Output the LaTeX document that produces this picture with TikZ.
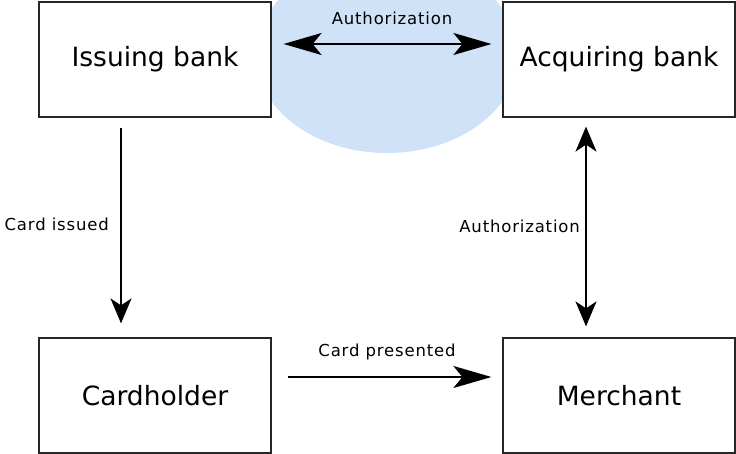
\documentclass[tikz,border=0pt]{standalone}
\usepackage{fontspec}
\usetikzlibrary{arrows.meta}
\newfontfamily\boxfont{DejaVu Sans}
\newfontfamily\labelfont{DejaVu Sans}[LetterSpace=5]
\definecolor{haze}{RGB}{207,226,247}
\tikzset{
  longhead/.tip={Stealth[length=38pt,width=22pt,inset=9pt]},
  shorthead/.tip={Stealth[length=25pt,width=21pt,inset=7pt]},
  party/.style={draw=black!85, line width=1.2pt, fill=white, minimum width=232pt,
    minimum height=115pt, inner sep=0pt, font=\boxfont\fontsize{26.5}{30}\selectfont},
  hflow/.style={line width=2pt, -longhead},
  htwoway/.style={line width=2pt, longhead-longhead},
  vflow/.style={line width=2pt, -shorthead},
  vtwoway/.style={line width=2pt, shorthead-shorthead},
  tag/.style={inner sep=0pt, font=\labelfont\fontsize{16.5}{19}\selectfont}
}
\begin{document}
\begin{tikzpicture}[x=1pt,y=-1pt]
\useasboundingbox (0,0) rectangle (736,454);
% network zone behind the banks
\fill[haze] (387,55) ellipse [x radius=131pt, y radius=98pt];
% the four parties
\node[party] (issuing) at (155,59.5) {Issuing bank};
\node[party] (acquiring) at (619,59.5) {Acquiring bank};
\node[party] (cardholder) at (155,395.5) {Cardholder};
\node[party] (merchant) at (619,395.5) {Merchant};
% flows between them
\draw[htwoway, shorten <=12pt, shorten >=11pt]
  ([yshift=15.5pt]issuing.east) -- ([yshift=15.5pt]acquiring.west);
\draw[vflow, shorten <=10pt, shorten >=14pt]
  ([xshift=-34pt]issuing.south) -- ([xshift=-34pt]cardholder.north);
\draw[vtwoway, shorten <=9pt, shorten >=11pt]
  ([xshift=-33pt]acquiring.south) -- ([xshift=-33pt]merchant.north);
\draw[hflow, shorten <=16pt, shorten >=11pt]
  ([yshift=18.5pt]cardholder.east) -- ([yshift=18.5pt]merchant.west);
% labels
\node[tag] (lauth) at (392,18) {Authorization};
\node[tag, anchor=east] (lissued) at (109,224) {Card issued};
\node[tag, anchor=east] (lauth2) at (580,226) {Authorization};
\node[tag] (lpresent) at (387,352) {Card presented};
\end{tikzpicture}
\end{document}
